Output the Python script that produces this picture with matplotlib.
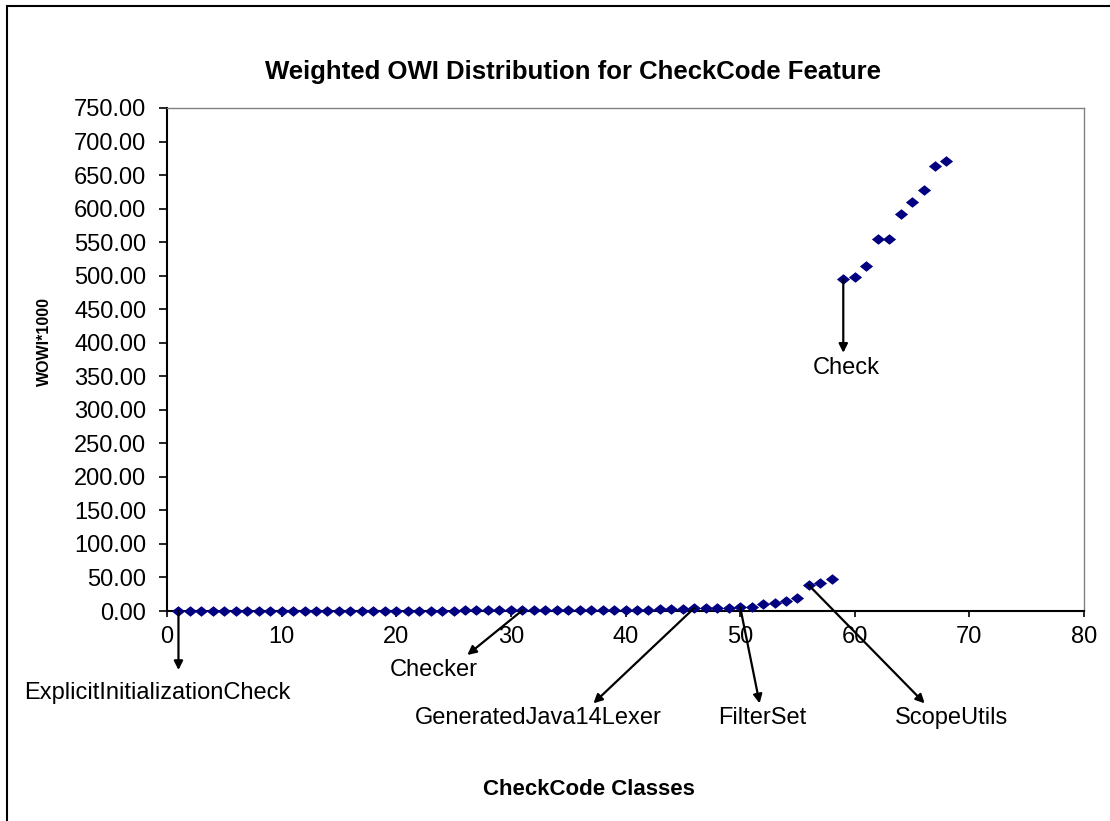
import matplotlib
matplotlib.use("Agg")
import matplotlib.pyplot as plt
from matplotlib.patches import Rectangle

plt.rcParams['font.family'] = ['Liberation Sans', 'DejaVu Sans']

# ---- data ----
class_index = list(range(1, 69))
wowi = [0.05, 0.08, 0.10, 0.12, 0.15, 0.17, 0.20, 0.22, 0.25, 0.28,
        0.30, 0.33, 0.35, 0.38, 0.40, 0.43, 0.46, 0.50, 0.53, 0.56,
        0.60, 0.63, 0.66, 0.70, 0.74, 0.78, 0.82, 0.86, 0.90, 0.95,
        1.00, 1.05, 1.10, 1.16, 1.22, 1.30, 1.40, 1.52, 1.65, 1.80,
        1.95, 2.10, 2.30, 2.50, 2.80,
        4.5, 4.8, 5.0, 5.2,
        6.3, 6.6,
        10.4, 12.4, 14.9, 19.9,
        38.3, 41.3, 48.2,
        494.6, 498.5, 514.0, 554.0, 554.0, 592.0, 610.0, 628.0, 663.5, 671.0]

y_ticks = list(range(0, 751, 50))
x_ticks = list(range(0, 81, 10))

# annotations: label, data point (x), arrow tip (x, y), text centre (x, y)
ann_labels = ["ExplicitInitializationCheck", "Checker", "GeneratedJava14Lexer",
              "FilterSet", "ScopeUtils", "Check"]
ann_point_x = [1, 31, 46, 50, 56, 59]
ann_tip = [(1.0, -88), (26.2, -65.6), (37.2, -137.7), (51.7, -137.7), (66.1, -137.7), (59.0, 385)]
ann_text = [(-0.85, -122.3), (23.3, -88), (32.4, -160), (51.9, -160), (68.4, -160), (59.3, 363)]

title = "Weighted OWI Distribution for CheckCode Feature"
xlabel = "CheckCode Classes"
ylabel = "WOWI*1000"

# ---- figure ----
W, H = 1110, 821
fig = plt.figure(figsize=(W / 100, H / 100), dpi=100)
ax = fig.add_axes([167 / W, 1 - 611 / H, (1084 - 167) / W, (611 - 108) / H])

diamond = [(-1, 0), (0, 0.8), (1, 0), (0, -0.8), (-1, 0)]
ax.plot(class_index, wowi, linestyle='none', marker=diamond, markersize=9.5,
        color='#000080', markeredgewidth=0, clip_on=False, zorder=3)

ax.set_xlim(0, 80)
ax.set_ylim(0, 750)
ax.set_xticks(x_ticks)
ax.set_yticks(y_ticks)
ax.set_yticklabels([f"{v:.2f}" for v in y_ticks])
ax.tick_params(axis='y', direction='out', length=6, width=1.2, pad=9, labelsize=17)
ax.tick_params(axis='x', direction='out', length=4.5, width=1.2, pad=6, labelsize=17)

for s in ['top', 'right']:
    ax.spines[s].set_color('#808080')
    ax.spines[s].set_linewidth(1.0)
for s in ['left', 'bottom']:
    ax.spines[s].set_color('black')
    ax.spines[s].set_linewidth(1.5)

for lab, px, tip, txt in zip(ann_labels, ann_point_x, ann_tip, ann_text):
    py = wowi[class_index.index(px)]
    ax.annotate('', xy=tip, xytext=(px, py), annotation_clip=False,
                arrowprops=dict(arrowstyle='-|>', color='black', lw=1.6,
                                mutation_scale=13, shrinkA=0, shrinkB=0))
    ax.text(txt[0], txt[1], lab, ha='center', va='center', fontsize=17,
            clip_on=False)

fig.text(573 / W, 1 - 72 / H, title, ha='center', va='center',
         fontsize=18.5, fontweight='bold')
fig.text(589 / W, 1 - 789 / H, xlabel, ha='center', va='center',
         fontsize=16, fontweight='bold')
fig.text(44 / W, 1 - 342 / H, ylabel, ha='center', va='center',
         fontsize=11.5, fontweight='bold', rotation=90)

fig.patches.append(Rectangle((7 / W, -0.1), 1.2, 1.1 - 6 / H, transform=fig.transFigure,
                             fill=False, edgecolor='black', linewidth=1.5))

fig.savefig('out.png', dpi=100)
